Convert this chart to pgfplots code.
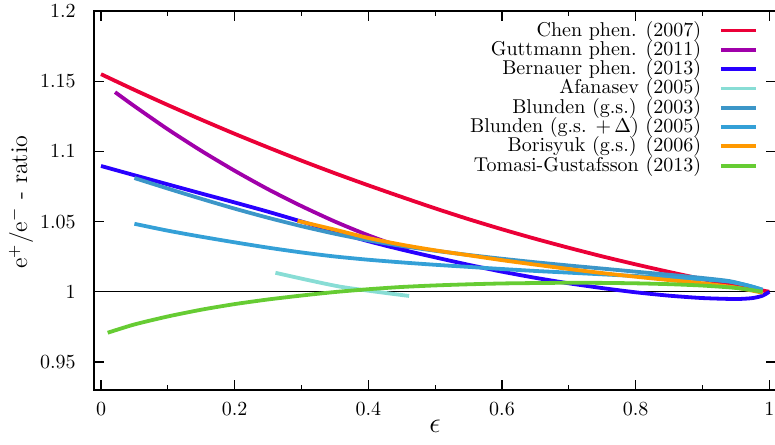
\documentclass[border=0pt]{standalone}
\usepackage{pgfplots}
\pgfplotsset{compat=1.18}
\usetikzlibrary{calc}

\definecolor{cChen}{RGB}{235,0,55}
\definecolor{cGutt}{RGB}{160,0,170}
\definecolor{cBern}{RGB}{40,0,255}
\definecolor{cAfan}{RGB}{136,221,213}
\definecolor{cBlgs}{RGB}{60,150,200}
\definecolor{cBlD}{RGB}{52,160,215}
\definecolor{cBori}{RGB}{255,153,0}
\definecolor{cTomG}{RGB}{102,204,51}

\begin{document}
\begin{tikzpicture}
\begin{axis}[
  scale only axis,
  width=341pt, height=189.5pt,
  xmin=-0.0105, xmax=1.0100,
  ymin=0.93, ymax=1.2,
  xtick={0,0.2,0.4,0.6,0.8,1},
  minor xtick={0.1,0.3,0.5,0.7,0.9},
  ytick={0.95,1,1.05,1.1,1.15,1.2},
  major tick length=5pt, minor tick length=2.5pt,
  tick align=inside,
  axis line style={line width=0.6pt},
  every tick/.style={black, line width=0.6pt},
  yticklabel style={inner sep=0pt, xshift=-9pt},
  xticklabel style={inner sep=0pt, yshift=-6pt},
  xlabel={\Large $\epsilon$},
  xlabel style={at={(axis description cs:0.5,-0.095)}, anchor=center},
  ylabel={\large $\mathrm{e}^{+}/\mathrm{e}^{-}$ - ratio},
  ylabel style={at={(axis description cs:-0.107,0.496)}, anchor=center},
  legend plot pos=right,
  legend cell align=right,
  legend style={at={(rel axis cs:1,1)}, anchor=north east,
    xshift=-9.5pt, yshift=-5pt, draw=none, fill=none,
    inner sep=0pt, outer sep=0pt, row sep=0.15pt, column sep=9pt,
    nodes={inner sep=0pt, text height=7.5pt, text depth=2pt}},
  every axis plot/.append style={line width=1.9pt, no marks, smooth, tension=0.4},
]

% reference line at ratio = 1
\addplot[black, line width=0.5pt, sharp plot, forget plot]
  coordinates {(-0.0105,1) (1.0100,1)};

\addplot[cChen] coordinates {
 (0,1.155) (0.05,1.1438) (0.1,1.1330) (0.15,1.1226) (0.2,1.1125) (0.25,1.1028)
 (0.3,1.0934) (0.35,1.0844) (0.4,1.0758) (0.45,1.0675) (0.5,1.0594)
 (0.55,1.0517) (0.6,1.0445) (0.65,1.0377) (0.7,1.0313) (0.75,1.0252)
 (0.8,1.0195) (0.85,1.0141) (0.9,1.0090) (0.95,1.0043) (1.0,1.0)};
\addlegendentry{Chen phen. (2007)}

\addplot[cGutt] coordinates {
 (0.021,1.1422) (0.05,1.1322) (0.1,1.1157) (0.15,1.1004) (0.2,1.0862)
 (0.25,1.0730) (0.3,1.0610) (0.35,1.0500) (0.4,1.0402) (0.46,1.0298)};
\addlegendentry{Guttmann phen. (2011)}

\addplot[cBern] coordinates {
 (0,1.0896) (0.05,1.0830) (0.1,1.0765) (0.15,1.0700) (0.2,1.0636)
 (0.25,1.0570) (0.3,1.0500) (0.35,1.0428) (0.4,1.0360) (0.45,1.0300)
 (0.5,1.0245) (0.55,1.0192) (0.6,1.0143) (0.65,1.0099) (0.7,1.0060)
 (0.75,1.0026) (0.8,0.9996) (0.85,0.9972) (0.9,0.9955) (0.95,0.9948)
 (0.975,0.9955) (0.99,0.9972) (1.0,1.0)};
\addlegendentry{Bernauer phen. (2013)}

\addplot[cAfan] coordinates {
 (0.261,1.0135) (0.31,1.0083) (0.358,1.0036) (0.41,1.0001) (0.461,0.997)};
\addlegendentry{Afanasev (2005)}

\addplot[cBlgs] coordinates {
 (0.05,1.081) (0.1,1.0735) (0.15,1.0662) (0.2,1.0592) (0.25,1.0527)
 (0.3,1.0467) (0.35,1.0413) (0.4,1.0366) (0.45,1.0326) (0.5,1.0292)
 (0.55,1.0262) (0.6,1.0235) (0.65,1.021) (0.7,1.0187) (0.75,1.0165)
 (0.8,1.0143) (0.85,1.0121) (0.9,1.0098) (0.94,1.0076) (0.97,1.0042)
 (0.99,1.0014)};
\addlegendentry{Blunden (g.s.) (2003)}

\addplot[cBlD] coordinates {
 (0.05,1.0484) (0.1,1.0435) (0.15,1.0392) (0.2,1.0352) (0.25,1.0314)
 (0.3,1.0280) (0.35,1.0251) (0.4,1.0228) (0.45,1.0209) (0.5,1.0192)
 (0.55,1.0177) (0.6,1.0162) (0.65,1.0148) (0.7,1.0136) (0.75,1.0124)
 (0.8,1.0112) (0.85,1.01) (0.9,1.0088) (0.94,1.0072) (0.97,1.0042)
 (0.99,1.0014)};
\addlegendentry{Blunden (g.s. $+\,\Delta$) (2005)}

\addplot[cBori] coordinates {
 (0.294,1.0505) (0.35,1.0442) (0.4,1.0383) (0.45,1.0335) (0.5,1.0295)
 (0.55,1.026) (0.6,1.0225) (0.65,1.0193) (0.7,1.0162) (0.75,1.0133)
 (0.8,1.0107) (0.85,1.0083) (0.9,1.006) (0.95,1.003) (0.99,0.9993)};
\addlegendentry{Borisyuk (g.s.) (2006)}

\addplot[cTomG] coordinates {
 (0.01,0.9708) (0.05,0.9767) (0.1,0.9824) (0.15,0.9872) (0.2,0.9912)
 (0.25,0.9945) (0.3,0.9973) (0.35,0.9998) (0.4,1.0018) (0.45,1.0034)
 (0.5,1.0045) (0.55,1.0053) (0.6,1.0059) (0.65,1.0062) (0.7,1.0064)
 (0.75,1.0063) (0.8,1.006) (0.85,1.0054) (0.9,1.0044) (0.95,1.0027)
 (0.99,1.0)};
\addlegendentry{Tomasi-Gustafsson (2013)}

\end{axis}
\pgfresetboundingbox
\path ($(current axis.south west)+(-47pt,-27pt)$) rectangle
      ($(current axis.north east)+(-0.5pt,5.5pt)$);
\end{tikzpicture}
\end{document}
